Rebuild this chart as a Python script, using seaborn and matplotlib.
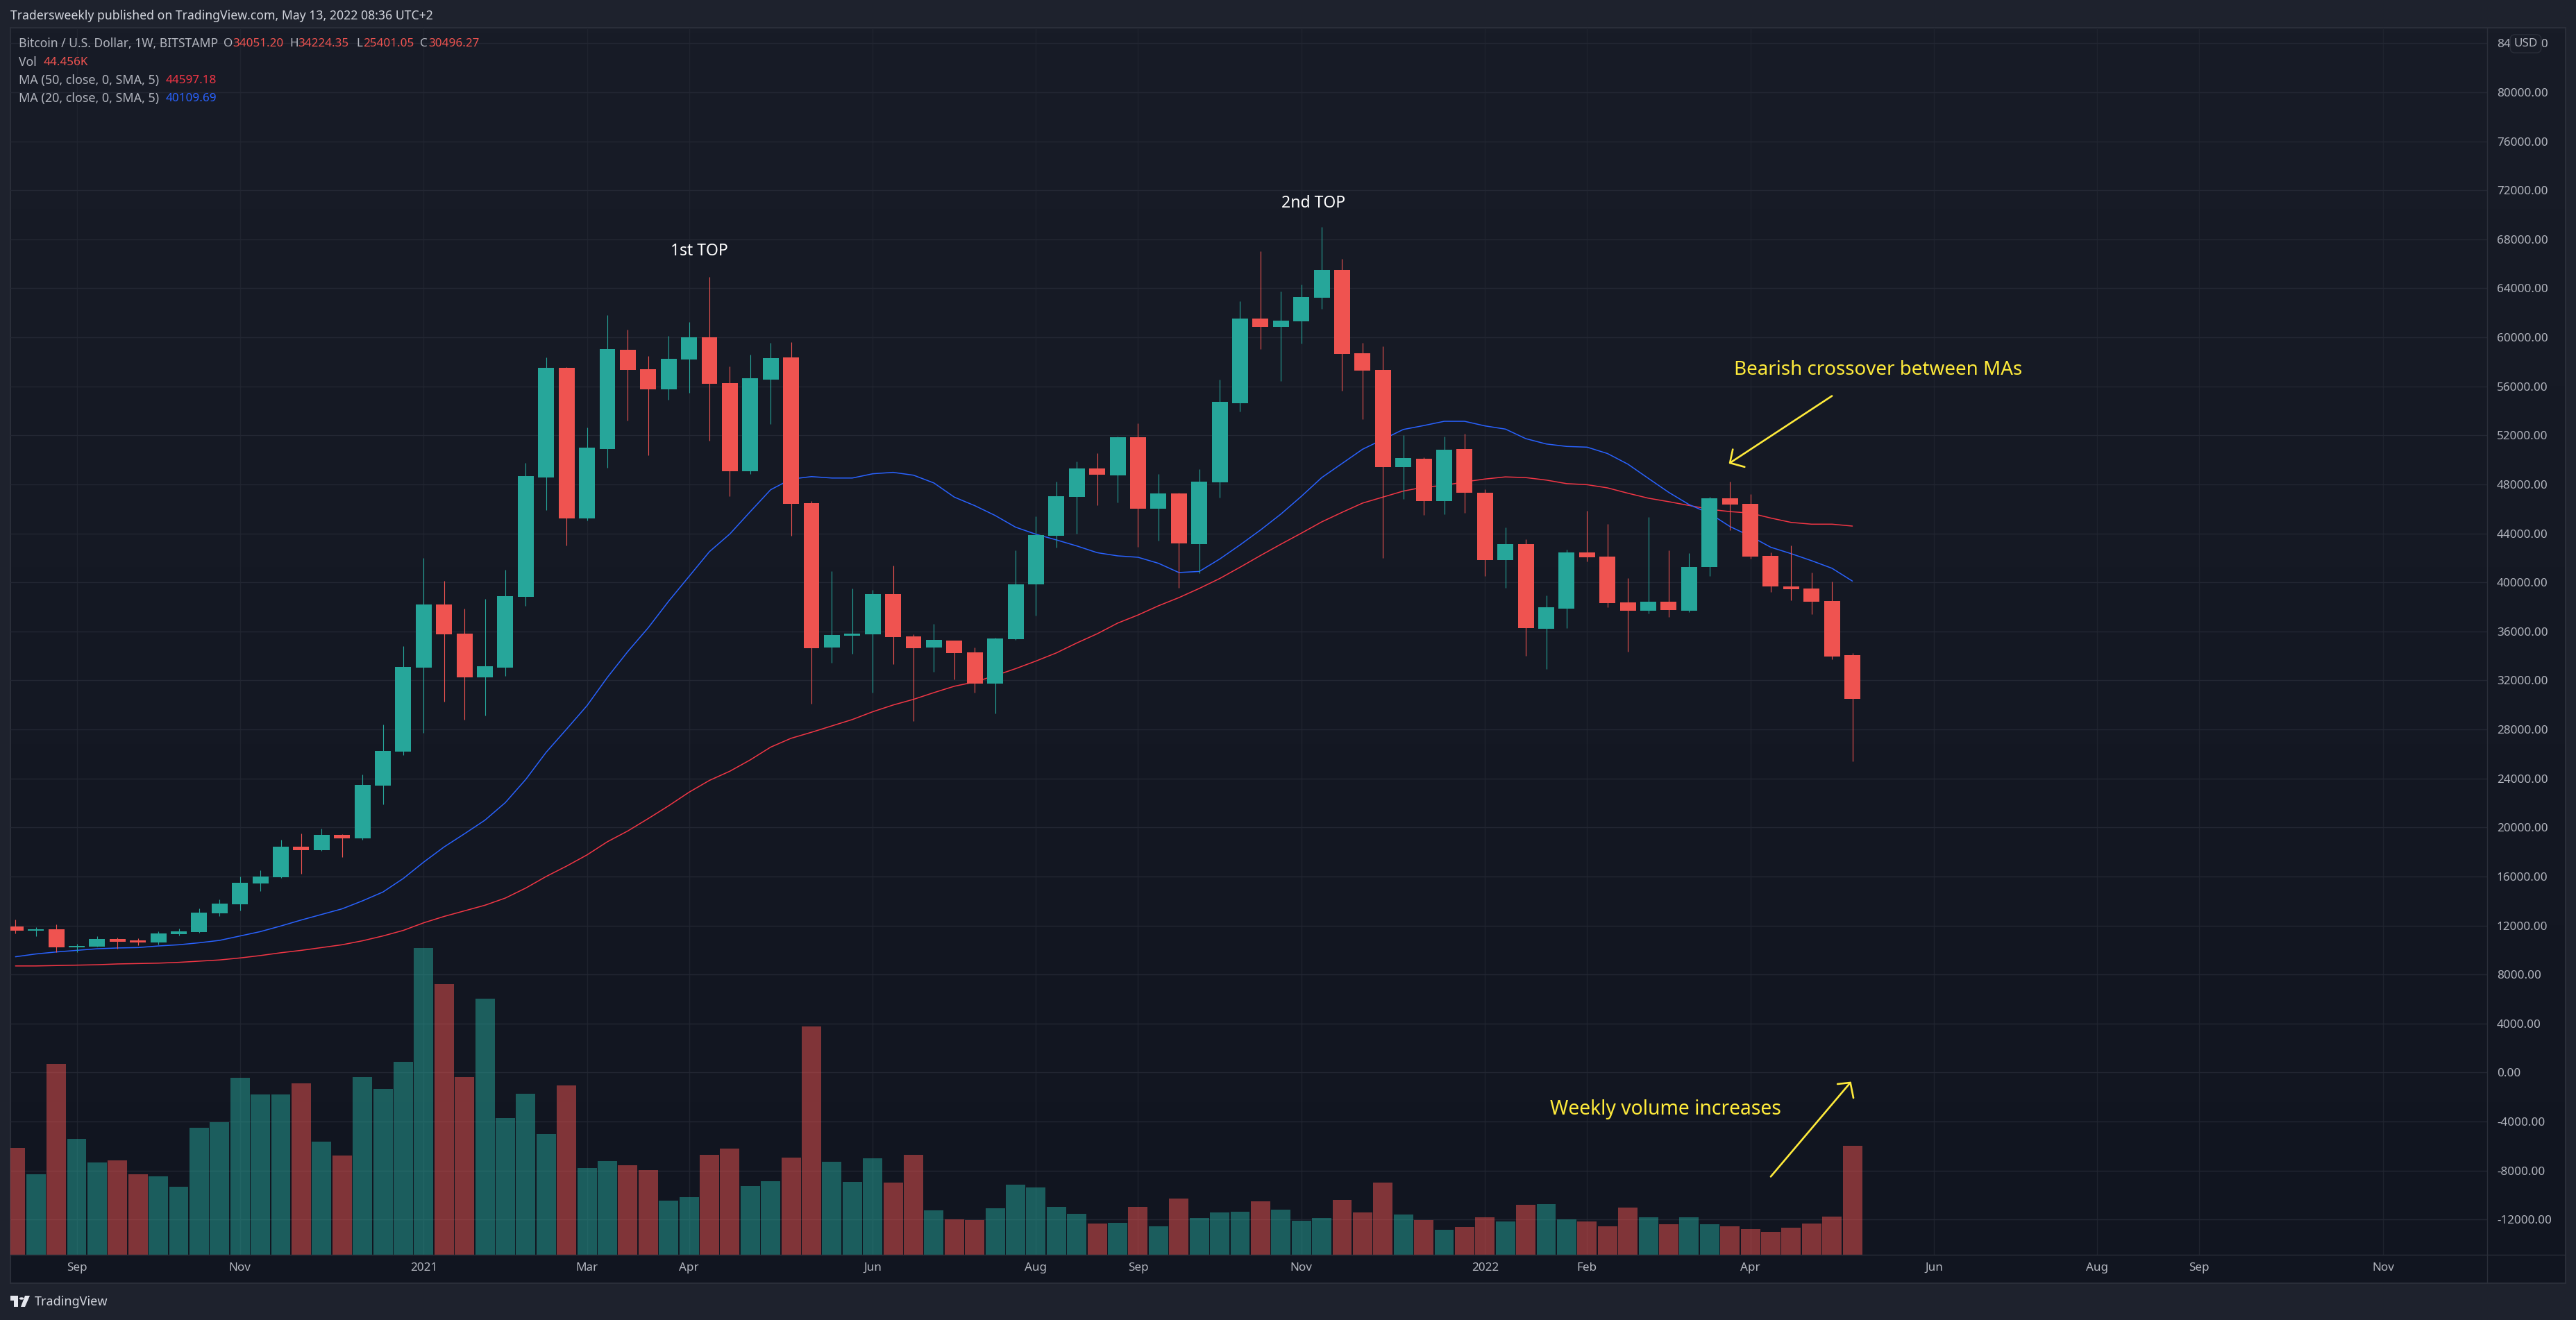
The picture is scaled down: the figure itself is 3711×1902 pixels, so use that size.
import matplotlib

matplotlib.use("Agg")
import matplotlib.pyplot as plt
import numpy as np
import pandas as pd
import seaborn as sns
from matplotlib.lines import Line2D
from matplotlib.patches import Circle, Polygon, Rectangle

W, H = 3711, 1902

# weekly BTC/USD candles
open_ = [11925, 11566, 11696, 10197, 10263, 10881, 10784, 10621, 11305, 11468,
         13000, 13717, 15412, 15933, 18443, 18150, 19388, 19094, 23429, 26208,
         33028, 38202, 35832, 32248, 33028, 38809, 48577, 57507, 45225, 50889,
         58981, 57392, 55744, 58201, 59992, 56265, 49068, 56554, 58374, 46467,
         34676, 35659, 35775, 39040, 35601, 34676, 35254, 34301, 31728, 35369,
         39849, 43814, 46964, 49305, 48727, 51849, 46011, 47254, 43121, 48178,
         54623, 61530, 60865, 61299, 63235, 65489, 58698, 57340, 49421, 50086,
         46647, 50895, 47311, 41820, 43121, 36214, 37861, 42456, 42109, 38381,
         37688, 38436, 37697, 41249, 46875, 46422, 42155, 39676, 39509, 38484,
         34051.20]
high = [12478, 11860, 12087, 10523, 11143, 11012, 10947, 11501, 11729, 13391,
        14108, 16000, 16487, 18997, 19518, 19909, 19453, 24309, 28383, 34791,
        41988, 40110, 37855, 38664, 41034, 49762, 58374, 57565, 52652, 61813,
        60628, 58490, 60108, 61264, 64934, 57623, 58576, 59559, 59617, 46641,
        40919, 39502, 39387, 41381, 35775, 36612, 35254, 34676, 35485, 42624,
        45397, 48236, 49854, 50548, 51906, 52976, 48843, 47311, 49248, 56559,
        62946, 67021, 63755, 64304, 69015, 66414, 59565, 59276, 52022, 50230,
        51906, 52138, 47600, 44479, 43525, 38930, 42688, 45838, 44768, 40346,
        45347, 42608, 42393, 46971, 48234, 47209, 42441, 43013, 40796, 40057,
        34224.35]
low = [11338, 11142, 9806, 9840, 10263, 10132, 10393, 10458, 11208, 11403,
       12772, 13228, 14793, 15868, 16226, 18085, 17563, 18997, 21897, 25890,
       27740, 30283, 28809, 29127, 32364, 38086, 45889, 43028, 45052, 49357,
       53201, 50369, 54906, 55484, 51554, 47045, 48837, 52912, 43809, 30110,
       33433, 34185, 31006, 33318, 28665, 32711, 32075, 31006, 29301, 35312,
       37277, 42861, 43959, 46300, 46531, 42890, 43410, 39566, 40751, 46907,
       53958, 59045, 56444, 59507, 62339, 55635, 53322, 41994, 46820, 45491,
       45549, 45664, 40520, 39566, 34017, 32919, 36272, 41705, 37977, 34335,
       37457, 37172, 37602, 40510, 44253, 41917, 39223, 38531, 37411, 33740,
       25401.05]
close = [11566, 11696, 10197, 10328, 10881, 10686, 10589, 11338, 11501, 13033,
         13782, 15477, 16000, 18443, 18150, 19388, 19094, 23461, 26232, 33087,
         38202, 35775, 32248, 33144, 38867, 48664, 57507, 45225, 51005, 59039,
         57334, 55744, 58259, 59992, 56207, 49068, 56669, 58316, 46410, 34618,
         35716, 35832, 39040, 35543, 34618, 35312, 34243, 31728, 35427, 39849,
         43872, 47022, 49305, 48785, 51849, 46011, 47254, 43179, 48236, 54739,
         61530, 60865, 61357, 63293, 65489, 58640, 57282, 49421, 50144, 46647,
         50837, 47311, 41820, 43121, 36272, 37977, 42456, 42051, 38323, 37688,
         38410, 37745, 41249, 46875, 46351, 42108, 39676, 39437, 38436, 33954,
         30496.27]
volume = [43438, 32660, 78057, 47357, 37559, 38376, 32660, 31844, 27598, 51929,
          54216, 72342, 65320, 65320, 69892, 46214, 40335, 72669, 67606, 78874,
          125251, 110717, 72669, 104512, 55685, 65647, 49153, 69076, 35436, 38049,
          36416, 34620, 21882, 23515, 40766, 43273, 28013, 29975, 39567, 93304,
          37932, 29648, 39349, 29430, 40766, 18094, 14388, 14170, 18857, 28558,
          27359, 19511, 16677, 12644, 12971, 19511, 11554, 22890, 14933, 17222,
          17440, 21691, 18312, 13734, 14933, 22345, 17222, 29430, 16350, 14061,
          10137, 11227, 15151, 13516, 20274, 20601, 14388, 13516, 11554, 19184,
          15151, 12317, 15151, 12317, 11554, 10355, 9265, 10900, 12644, 15478,
          44456]
ma20 = [9447, 9676, 9839, 9970, 10100, 10165, 10197, 10328, 10426, 10589,
        10784, 11143, 11501, 11958, 12446, 12902, 13358, 14010, 14727, 15835,
        17172, 18410, 19486, 20594, 22027, 23918, 26134, 28024, 29937, 32248,
        34358, 36295, 38462, 40485, 42508, 43953, 45774, 47565, 48433, 48635,
        48519, 48519, 48866, 48982, 48750, 48115, 46959, 46265, 45462, 44508,
        43930, 43468, 42976, 42427, 42167, 42051, 41560, 40809, 40895, 41907,
        43063, 44277, 45577, 47022, 48554, 49710, 50866, 51675, 52484, 52802,
        53149, 53149, 52773, 52513, 51733, 51299, 51097, 51039, 50519, 49652,
        48496, 47352, 46351, 45636, 44563, 43776, 42870, 42346, 41773, 41154,
        40109.69]
ma50 = [8698, 8698, 8731, 8763, 8796, 8861, 8894, 8926, 8992, 9089,
        9187, 9350, 9546, 9774, 9970, 10197, 10426, 10751, 11143, 11599,
        12218, 12739, 13195, 13652, 14238, 15053, 15999, 16846, 17758, 18834,
        19714, 20724, 21767, 22875, 23840, 24590, 25515, 26556, 27278, 27769,
        28289, 28809, 29445, 29994, 30457, 31006, 31526, 31873, 32393, 32960,
        33584, 34248, 35058, 35809, 36677, 37341, 38092, 38757, 39508, 40317,
        41242, 42196, 43121, 44017, 44941, 45722, 46473, 46964, 47456, 47774,
        47918, 48207, 48438, 48612, 48554, 48352, 48063, 47976, 47716, 47280,
        46875, 46589, 46279, 45969, 45779, 45659, 45254, 44897, 44753, 44753,
        44597.18]

price_ticks = list(range(84000, -16000, -4000))
month_pos = [3, 11, 20, 28, 33, 42, 50, 55, 63, 72, 77, 85, 94, 102, 107, 116]
month_labels = ["Sep", "Nov", "2021", "Mar", "Apr", "Jun", "Aug", "Sep", "Nov",
                "2022", "Feb", "Apr", "Jun", "Aug", "Sep", "Nov"]

UP, DOWN = "#26a69a", "#ef5350"
TXT = "#b2b5be"
GRID = "#232733"
BORDER = "#2a2e39"
YELLOW = "#ffeb3b"


def fx(px):
    return px / W


def fy(py):
    return 1 - py / H


def ftext(px, py, s, **kw):
    kw.setdefault("color", TXT)
    kw.setdefault("fontsize", 12.3)
    kw.setdefault("va", "center")
    return fig.text(fx(px), fy(py), s, **kw)


def fline(x0, y0, x1, y1, color=BORDER, lw=1.0):
    fig.add_artist(Line2D([fx(x0), fx(x1)], [fy(y0), fy(y1)], color=color, lw=lw))


sns.set_theme(style="dark")
plt.rcParams["font.family"] = ["Noto Sans", "DejaVu Sans"]
plt.rcParams["axes.unicode_minus"] = False

df = pd.DataFrame({"week": np.arange(len(close)), "open": open_, "high": high, "low": low,
                   "close": close, "volume": volume, "ma20": ma20, "ma50": ma50})
df["dir"] = np.where(df["close"] >= df["open"], "up", "down")
colors = df["dir"].map({"up": UP, "down": DOWN}).tolist()

fig = plt.figure(figsize=(W / 100, H / 100), dpi=100, facecolor="#1e222d")

# chart background, TradingView fades it slightly from top to bottom
bg = fig.add_axes([fx(15), fy(1849), fx(3696 - 15), (1849 - 40) / H], zorder=0)
bg.imshow(np.linspace(0, 1, 256).reshape(-1, 1), aspect="auto",
          cmap=matplotlib.colors.LinearSegmentedColormap.from_list("bg", ["#181c27", "#111520"]))
bg.set_xticks([])
bg.set_yticks([])
for s in bg.spines.values():
    s.set_color(BORDER)
    s.set_linewidth(1.5)

ax = fig.add_axes([fx(15), fy(1807.5), fx(3583 - 15), (1807.5 - 40) / H], zorder=1)
ax.patch.set_alpha(0)

sns.lineplot(data=df, x="week", y="ma50", color="#f23645", lw=1.1, ax=ax, zorder=2, errorbar=None)
sns.lineplot(data=df, x="week", y="ma20", color="#2962ff", lw=1.1, ax=ax, zorder=2, errorbar=None)
ax.vlines(df["week"], df["low"], df["high"], colors=colors, lw=0.8, zorder=3)
ax.bar(df["week"], (df["close"] - df["open"]).abs(), bottom=df[["open", "close"]].min(axis=1),
       width=0.78, color=colors, linewidth=0, zorder=4)

ax_vol = ax.twinx()
ax_vol.patch.set_alpha(0)
sns.barplot(data=df, x="week", y="volume", hue="dir", palette={"up": UP, "down": DOWN},
            native_scale=True, dodge=False, width=0.95, saturation=1, alpha=0.5,
            linewidth=0, legend=False, ax=ax_vol)
ax_vol.set_ylim(0, 501800)
ax_vol.set_yticks([])
ax_vol.set_ylabel("")
ax_vol.grid(False)
for s in ax_vol.spines.values():
    s.set_visible(False)

ax.set_xlim(-0.248, 121.1)
ax.set_ylim(-14846, 85268)
ax.set_xlabel("")
ax.set_ylabel("")
ax.set_yticks(price_ticks)
ax.set_yticklabels([f"{t:.2f}" for t in price_ticks], color=TXT, fontsize=12.3)
ax.yaxis.tick_right()
ax.set_xticks(month_pos)
ax.set_xticklabels(month_labels, color=TXT, fontsize=12.3)
for lab in ax.get_xticklabels():
    if lab.get_text() in ("2021", "2022"):
        lab.set_fontweight("bold")
ax.tick_params(axis="y", length=0, pad=10, labelright=True, labelleft=False)
ax.tick_params(axis="x", length=0, pad=8)
ax.grid(True, axis="y", color=GRID, lw=1.0)
ax.grid(True, axis="x", color="#1f232e", lw=1.0)
ax.set_axisbelow(True)
for s in ax.spines.values():
    s.set_visible(False)

# drawn notes
ax.text(33.5, (1545.4 - 362) / 0.017655, "1st TOP", color="white", fontsize=16.5, ha="center", va="center")
ax.text(63.6, (1545.4 - 293) / 0.017655, "2nd TOP", color="white", fontsize=16.5, ha="center", va="center")
ax.text(84.2, 57343, "Bearish crossover between MAs", color=YELLOW, fontsize=20, va="center")
ax.text(75.2, -3024, "Weekly volume increases", color=YELLOW, fontsize=20.4, va="center")
arrows = [
    [(89.0, 55219), (84.0, 49754)],
    [(84.14, 50858), (84.0, 49754), (84.72, 49424)],
    [(86.0, -8496), (89.9, -827)],
    [(89.27, -940), (89.9, -827), (90.05, -2073)],
]
for pts in arrows:
    xs, ys = zip(*pts)
    ax.plot(xs, ys, color=YELLOW, lw=1.9, zorder=6, solid_capstyle="round")

# price scale and time scale borders
fline(3583, 40, 3583, 1849)
fline(15, 1807.5, 3696, 1807.5)

# USD badge over the top price label
ftext(3638.5, 63, "USD", ha="center", zorder=10,
      bbox=dict(boxstyle="round,pad=0.3,rounding_size=0.4", fc="#181c27", ec=BORDER, lw=1))

# header and legend
ftext(15, 23, "Tradersweekly published on TradingView.com, May 13, 2022 08:36 UTC+2",
      color="#d1d4dc", fontsize=12.7, fontweight="medium")
ftext(27, 63, "Bitcoin / U.S. Dollar, 1W, BITSTAMP", fontsize=12.6)
for px, s, col in [(322, "O", TXT), (335, "34051.20", DOWN), (417, "H", TXT), (429, "34224.35", DOWN),
                   (513, "L", TXT), (523, "25401.05", DOWN), (605, "C", TXT), (617, "30496.27", DOWN)]:
    ftext(px, 63, s, color=col, fontsize=12.3)
ftext(27, 90, "Vol", fontsize=12.6)
ftext(62.5, 90, "44.456K", color=DOWN, fontsize=12.3)
ftext(27, 116, "MA (50, close, 0, SMA, 5)", fontsize=12.9)
ftext(239, 116, "44597.18", color="#f23645", fontsize=12.3)
ftext(27, 142, "MA (20, close, 0, SMA, 5)", fontsize=12.9)
ftext(239, 142, "40109.69", color="#2962ff", fontsize=12.3)

# TradingView mark
for patch in [
    Rectangle((fx(15), fy(1874)), 11 / W, 7 / H),
    Rectangle((fx(20), fy(1883)), 6 / W, 16 / H),
    Circle((fx(31), fy(1871)), 0.0009),
    Polygon([(fx(30), fy(1883)), (fx(36), fy(1883)), (fx(43), fy(1867)), (fx(36), fy(1867))]),
]:
    patch.set(transform=fig.transFigure, color="#e6e8ef", linewidth=0)
    fig.add_artist(patch)
ftext(50, 1876, "TradingView", color="#d1d4dc", fontsize=13)

fig.savefig("out.png", dpi=100, facecolor=fig.get_facecolor())
